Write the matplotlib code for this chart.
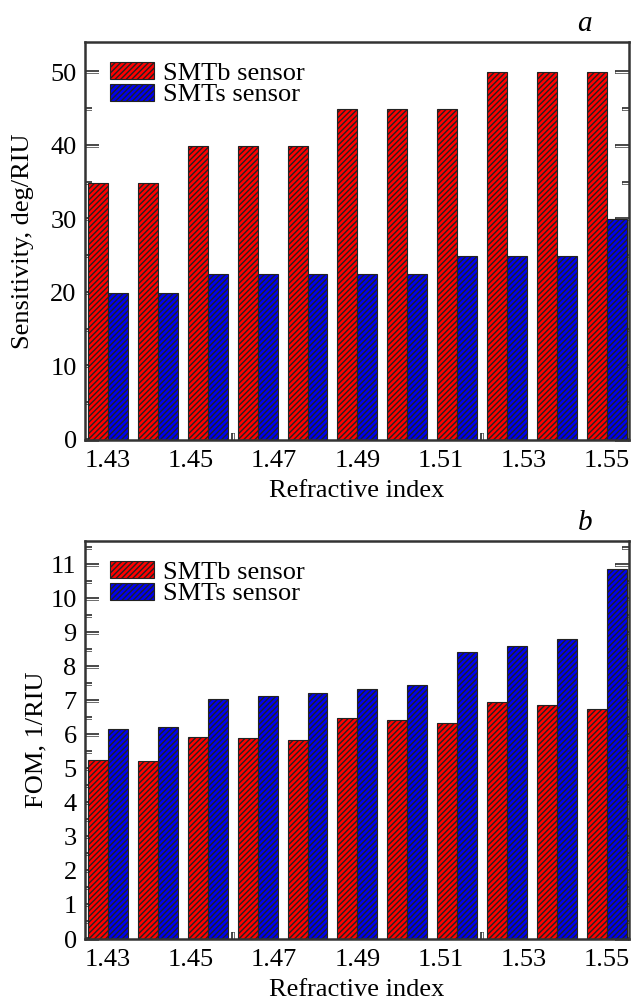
import matplotlib
matplotlib.use("Agg")
import matplotlib.pyplot as plt
import matplotlib.patheffects as pe
import numpy as np
from matplotlib.ticker import MultipleLocator

plt.rcParams['font.family'] = ['Liberation Serif', 'DejaVu Serif']
plt.rcParams['hatch.linewidth'] = 1.0
plt.rcParams['hatch.color'] = 'black'

refr_index = [1.430, 1.442, 1.454, 1.466, 1.478, 1.490, 1.502, 1.514, 1.526, 1.538, 1.550]
sens_smtb = [35, 35, 40, 40, 40, 45, 45, 45, 50, 50, 50]
sens_smts = [20, 20, 22.5, 22.5, 22.5, 22.5, 22.5, 25, 25, 25, 30]
fom_smtb = [5.27, 5.24, 5.94, 5.90, 5.84, 6.51, 6.43, 6.36, 6.97, 6.87, 6.77]
fom_smts = [6.17, 6.22, 7.06, 7.14, 7.24, 7.34, 7.46, 8.43, 8.62, 8.82, 10.87]
xtick_labels = ['1.43', '1.45', '1.47', '1.49', '1.51', '1.53', '1.55']
series_names = ['SMTb sensor', 'SMTs sensor']

fig = plt.figure(figsize=(6.32, 10.01), dpi=100)
W, H = 632, 1001

def make_ax(top_px, bottom_px):
    return fig.add_axes([85 / W, (H - bottom_px) / H, (629 - 85) / W, (bottom_px - top_px) / H])

ax1 = make_ax(42, 440)
ax2 = make_ax(541, 939)

bw = 0.0048
FS = 19
outline = [pe.withStroke(linewidth=2.6, foreground='#222222')]

def draw(ax, yb, ys, ylim, ymaj, ymin, ylabel, ylabel_x, letter):
    x = np.array(refr_index)
    ax.bar(x, yb, width=-bw, align='edge', color='#ff0000', edgecolor='#222222',
           linewidth=0.8, hatch='//////', label=series_names[0], zorder=2)
    ax.bar(x, ys, width=bw, align='edge', color='#0000f0', edgecolor='#222222',
           linewidth=0.8, hatch='//////', label=series_names[1], zorder=2)
    ax.set_xlim(1.4245, 1.5553)
    ax.set_ylim(0, ylim)
    ax.set_xticks([float(t) for t in xtick_labels])
    ax.set_xticklabels(xtick_labels)
    ax.xaxis.set_minor_locator(MultipleLocator(0.01))
    ax.yaxis.set_major_locator(MultipleLocator(ymaj))
    ax.yaxis.set_minor_locator(MultipleLocator(ymin))
    ax.tick_params(which='both', direction='in', top=True, right=True,
                   labelsize=FS, width=1.0, zorder=5)
    ax.tick_params(which='major', length=10)
    ax.tick_params(which='minor', length=5)
    ax.tick_params(axis='x', which='major', pad=7)
    ax.tick_params(axis='y', which='major', pad=6)
    ax.tick_params(axis='x', which='both', top=True, color='white')
    ax.tick_params(axis='y', which='both', color='white')
    # top ticks plain dark; others white with dark outline
    for t in ax.xaxis.get_major_ticks() + ax.xaxis.get_minor_ticks():
        t.tick1line.set_path_effects(outline)
        t.tick2line.set_color('#222222')
    for t in ax.yaxis.get_major_ticks() + ax.yaxis.get_minor_ticks():
        t.tick1line.set_path_effects(outline)
        t.tick2line.set_path_effects(outline)
    for s in ax.spines.values():
        s.set_linewidth(1.8)
        s.set_color('#333333')
        s.set_zorder(6)
    ax.set_xlabel('Refractive index', fontsize=FS, labelpad=6)
    ax.set_ylabel(ylabel, fontsize=FS, va='center')
    ax.yaxis.set_label_coords(ylabel_x, 0.5)
    ax.text(0.919, 1.027, letter, transform=ax.transAxes, fontsize=FS + 2,
            style='italic', ha='center', va='baseline')
    ax.legend(loc='upper left', bbox_to_anchor=(25 / 544, 1 - 20 / 398),
              frameon=False, fontsize=FS, borderpad=0, borderaxespad=0,
              handlelength=1.65, handleheight=0.62, handletextpad=0.35,
              labelspacing=-0.05)

draw(ax1, sens_smtb, sens_smts, 54.1, 10, 5, 'Sensitivity, deg/RIU', (23 - 85) / 544, 'a')
draw(ax2, fom_smtb, fom_smts, 11.7, 1, 0.5, 'FOM, 1/RIU', (36 - 85) / 544, 'b')

fig.savefig('out.png', dpi=100)
